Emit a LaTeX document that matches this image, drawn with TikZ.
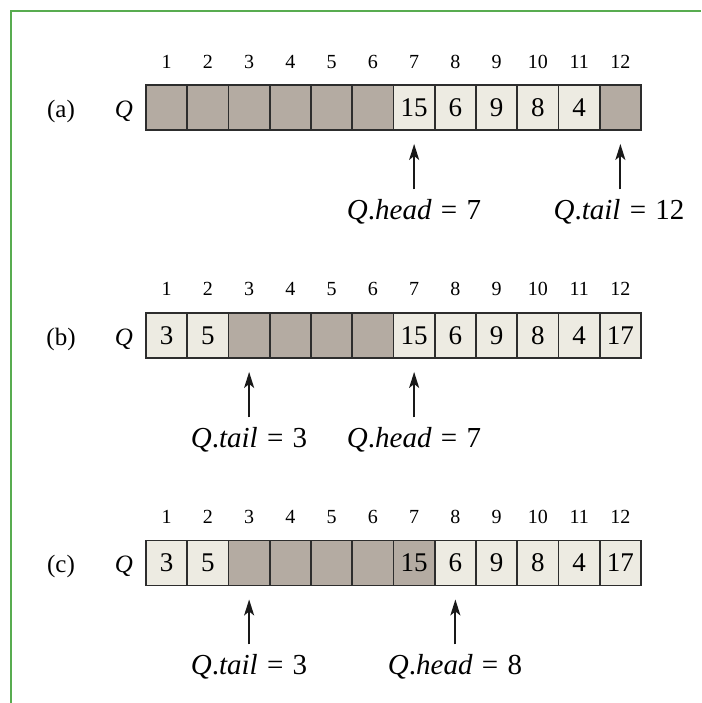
\documentclass[tikz,border=0pt]{standalone}
\usepackage{fontspec}
\setmainfont{Liberation Serif}
\usetikzlibrary{arrows.meta}
\definecolor{framegreen}{RGB}{88,172,80}
\definecolor{emptycell}{RGB}{180,171,162}
\definecolor{fullcell}{RGB}{237,235,226}
\definecolor{edgegray}{RGB}{45,45,45}
\tikzset{
  cellbox/.style={draw=edgegray, line width=1.9pt, minimum width=41.25pt, minimum height=45pt,
    inner sep=0pt, font=\fontsize{27}{27}\selectfont, anchor=center},
  emptybox/.style={cellbox, fill=emptycell},
  fullbox/.style={cellbox, fill=fullcell},
  idx/.style={font=\fontsize{20}{20}\selectfont, inner sep=0pt},
  rowlabel/.style={font=\fontsize{25}{25}\selectfont, inner sep=0pt},
  ptr/.style={font=\fontsize{29}{29}\selectfont, inner sep=0pt},
  ptrarrow/.style={-{Stealth[length=16pt,width=10pt,inset=4pt]}, line width=2pt,
    shorten >=13pt, shorten <=10pt, draw=black!90}
}
\newcommand{\ptrtext}[2]{\textit{Q}.\textit{#1}\hspace{0.32em}=\hspace{0.32em}#2}
\begin{document}
\begin{tikzpicture}[x=1pt,y=-1pt]
\useasboundingbox (0,0) rectangle (701,703);
\fill[white] (0,0) rectangle (701,703);
% frame (only top and left edges visible)
\draw[framegreen, line width=2.5pt] (11,703) -- (11,11) -- (701,11);

% ---------- row (a) ----------
\node[rowlabel] (la) at (61,111) {(a)};
\node[rowlabel] (qa) at (124,111) {\textit{Q}};
\foreach \i/\v/\s in {1//emptybox,2//emptybox,3//emptybox,4//emptybox,5//emptybox,6//emptybox,
  7/15/fullbox,8/6/fullbox,9/9/fullbox,10/8/fullbox,11/4/fullbox,12//emptybox}{
  \node[\s] (a\i) at ({146+(\i-0.5)*41.25},107.5) {\v};
  \node[idx] (ia\i) at ({146+(\i-0.5)*41.25},62) {\i};
}
\node[ptr] (ahead) at (414,212) {\ptrtext{head}{7}};
\node[ptr] (atail) at (619,212) {\ptrtext{tail}{12}};
\draw[ptrarrow] (a7.south |- ahead.north) -- (a7.south);
\draw[ptrarrow] (a12.south |- atail.north) -- (a12.south);

% ---------- row (b) ----------
\node[rowlabel] (lb) at (61,339) {(b)};
\node[rowlabel] (qb) at (124,339) {\textit{Q}};
\foreach \i/\v/\s in {1/3/fullbox,2/5/fullbox,3//emptybox,4//emptybox,5//emptybox,6//emptybox,
  7/15/fullbox,8/6/fullbox,9/9/fullbox,10/8/fullbox,11/4/fullbox,12/17/fullbox}{
  \node[\s] (b\i) at ({146+(\i-0.5)*41.25},335.5) {\v};
  \node[idx] (ib\i) at ({146+(\i-0.5)*41.25},289) {\i};
}
\node[ptr] (btail) at (249,440) {\ptrtext{tail}{3}};
\node[ptr] (bhead) at (414,440) {\ptrtext{head}{7}};
\draw[ptrarrow] (b3.south |- btail.north) -- (b3.south);
\draw[ptrarrow] (b7.south |- bhead.north) -- (b7.south);

% ---------- row (c) ----------
\node[rowlabel] (lc) at (61,566) {(c)};
\node[rowlabel] (qc) at (124,566) {\textit{Q}};
\foreach \i/\v/\s in {1/3/fullbox,2/5/fullbox,3//emptybox,4//emptybox,5//emptybox,6//emptybox,
  7/15/emptybox,8/6/fullbox,9/9/fullbox,10/8/fullbox,11/4/fullbox,12/17/fullbox}{
  \node[\s] (c\i) at ({146+(\i-0.5)*41.25},563) {\v};
  \node[idx] (ic\i) at ({146+(\i-0.5)*41.25},517) {\i};
}
\node[ptr] (ctail) at (249,667) {\ptrtext{tail}{3}};
\node[ptr] (chead) at (455,667) {\ptrtext{head}{8}};
\draw[ptrarrow] (c3.south |- ctail.north) -- (c3.south);
\draw[ptrarrow] (c8.south |- chead.north) -- (c8.south);
\end{tikzpicture}
\end{document}
